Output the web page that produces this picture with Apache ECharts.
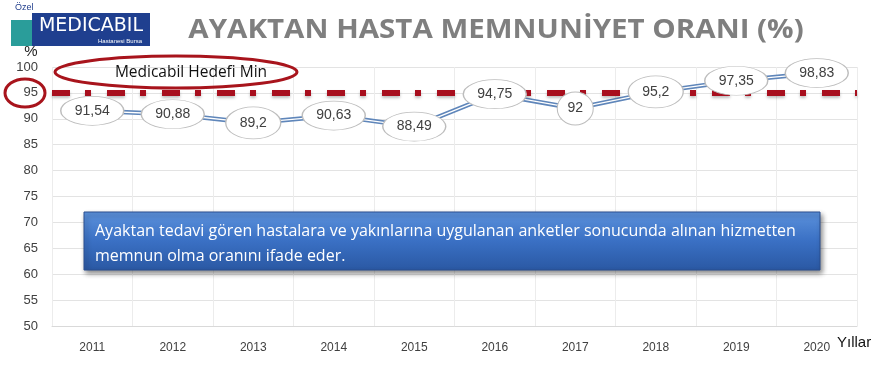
<!DOCTYPE html>
<html><head><meta charset="utf-8">
<script src="https://cdn.jsdelivr.net/npm/echarts@6/dist/echarts.min.js"></script>
<style>html,body{margin:0;padding:0;background:#fff}#c{width:882px;height:368px}</style>
</head><body><div id="c"></div>
<script>
var years = ['2011','2012','2013','2014','2015','2016','2017','2018','2019','2020'];
var satisfaction = [91.54, 90.88, 89.2, 90.63, 88.49, 94.75, 92, 95.2, 97.35, 98.83];
var targetMin = 95;
var yTicks = {min: 50, max: 100, interval: 5};
var titleText = 'AYAKTAN HASTA MEMNUNİYET ORANI (%)';
var targetLabel = 'Medicabil Hedefi Min';
var noteLines = ['Ayaktan tedavi gören hastalara ve yakınlarına uygulanan anketler sonucunda alınan hizmetten', 'memnun olma oranını ifade eder.'];

var fmt = function(v){ return String(v).replace('.', ','); };
var k = 0.5523;
var ellipsePath = 'path://M0,-1 C'+k+',-1 1,-'+k+' 1,0 C1,'+k+' '+k+',1 0,1 C-'+k+',1 -1,'+k+' -1,0 C-1,-'+k+' -'+k+',-1 0,-1 Z';
function ellSize(v){ var n = fmt(v).length; if(n>=5) return [63,29]; if(n===4) return [55,32]; return [36,33]; }

var chart = echarts.init(document.getElementById('c'));
chart.setOption({
  animation: false,
  backgroundColor: '#fff',
  grid: {left: 52, right: 25, top: 67, bottom: 42},
  xAxis: {type: 'category', data: years, boundaryGap: true,
    axisLine: {lineStyle: {color: '#d9d9d9'}}, axisTick: {show: false},
    splitLine: {show: true, lineStyle: {color: '#ececec'}},
    axisLabel: {color: '#404040', fontFamily: 'Liberation Sans', fontSize: 12, margin: 16}},
  yAxis: {type: 'value', min: yTicks.min, max: yTicks.max, interval: yTicks.interval,
    axisLine: {show: false}, axisTick: {show: false},
    splitLine: {lineStyle: {color: '#e3e3e3'}},
    axisLabel: {color: '#404040', fontFamily: 'Liberation Sans', fontSize: 13, margin: 14}},
  series: [
    {type: 'line', data: satisfaction, symbol: 'none', z: 2,
     lineStyle: {color: '#5f86ba', width: 4.5}},
    {type: 'line', data: satisfaction, symbol: 'none', z: 3,
     lineStyle: {color: '#ffffff', width: 1.3}},
    {type: 'scatter', data: satisfaction, z: 5,
     symbol: ellipsePath, symbolSize: function(v){ return ellSize(v); },
     itemStyle: {color: '#ffffff', borderColor: '#bdbdbd', borderWidth: 1, opacity: 1},
     label: {show: true, position: 'inside', formatter: function(p){ return fmt(p.value); },
       color: '#404040', fontFamily: 'Liberation Sans', fontSize: 14}},
    {type: 'line', data: [], z: 10,
     markLine: {silent: true, symbol: 'none', label: {show: false},
       lineStyle: {color: '#a80f1e', width: 6, type: [18, 15, 6, 16], opacity: 1,
         shadowColor: 'rgba(0,0,0,0.25)', shadowBlur: 3, shadowOffsetY: 2},
       data: [{yAxis: targetMin}]}}
  ],
  graphic: [
    {type: 'text', x: 496, y: 31, scaleX: 1.135, originX: 0, originY: 0,
     style: {text: titleText, fill: '#7f7f7f', font: 'bold 26px "Open Sans"', align: 'center', verticalAlign: 'middle'}},
    {type: 'text', left: 15, top: 3, style: {text: 'Özel', fill: '#1f3d8c', font: '9px "Liberation Sans"'}},
    {type: 'rect', shape: {x: 32, y: 13, width: 118, height: 33}, style: {fill: '#1f3f8f'}},
    {type: 'rect', shape: {x: 11, y: 20, width: 21, height: 26}, style: {fill: '#2a9d9a'}},
    {type: 'text', x: 91, y: 26, style: {text: 'MEDICABIL', fill: '#fff', font: '19px "DejaVu Sans"', align: 'center', verticalAlign: 'middle'}},
    {type: 'text', x: 120, y: 41, style: {text: 'Hastanesi Bursa', fill: '#fff', font: '6px "Liberation Sans"', align: 'center', verticalAlign: 'middle'}},
    {type: 'text', x: 31, y: 52, style: {text: '%', fill: '#222', font: '15px "Liberation Sans"', align: 'center', verticalAlign: 'middle'}},
    {type: 'ellipse', shape: {cx: 176, cy: 72, rx: 121, ry: 16}, style: {fill: 'none', stroke: '#a8141c', lineWidth: 3}, z: 20},
    {type: 'text', x: 191, y: 73, style: {text: targetLabel, fill: '#111', font: '15.5px "Open Sans"', align: 'center', verticalAlign: 'middle'}, z: 21},
    {type: 'ellipse', shape: {cx: 25, cy: 93, rx: 20, ry: 14}, style: {fill: 'none', stroke: '#a8141c', lineWidth: 3}, z: 20},
    {type: 'rect', shape: {x: 84, y: 212, width: 736, height: 58},
     style: {fill: new echarts.graphic.LinearGradient(0,0,0,1,[{offset:0,color:'#5c92dc'},{offset:0.5,color:'#3a70c4'},{offset:1,color:'#2a58a3'}]),
       stroke: '#2a4f8f', lineWidth: 1, shadowColor: 'rgba(0,0,0,0.45)', shadowBlur: 5, shadowOffsetX: 2, shadowOffsetY: 3}, z: 30},
    {type: 'text', x: 95, y: 231, style: {text: noteLines[0], fill: '#fff', font: '16px "Open Sans"', verticalAlign: 'middle'}, z: 31},
    {type: 'text', x: 95, y: 256, style: {text: noteLines[1], fill: '#fff', font: '16px "Open Sans"', verticalAlign: 'middle'}, z: 31},
    {type: 'text', x: 837, y: 343, style: {text: 'Yıllar', fill: '#111', font: '15px "Liberation Sans"', verticalAlign: 'middle'}, z: 31}
  ]
});
</script></body></html>
